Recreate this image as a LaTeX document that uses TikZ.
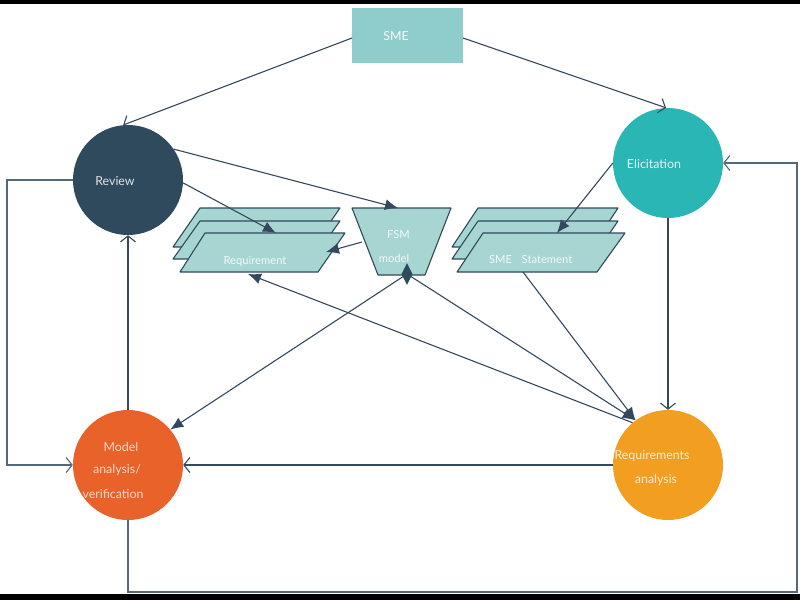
\documentclass[tikz,border=0pt]{standalone}
\usepackage{fontspec}
\setmainfont{Lato}
\usetikzlibrary{arrows.meta,shapes.geometric}
\definecolor{linec}{HTML}{34495E}
\definecolor{loopc}{HTML}{536979}
\definecolor{smefill}{HTML}{8ECDCB}
\definecolor{shapefill}{HTML}{A7D6D2}
\definecolor{shapeline}{HTML}{2E4A5B}
\definecolor{reviewc}{HTML}{2F4A5C}
\definecolor{elicc}{HTML}{2BB6B6}
\definecolor{modelc}{HTML}{E8622A}
\definecolor{reqc}{HTML}{F29E21}
\tikzset{
  conn/.style={draw=linec, line width=1.1pt},
  loopconn/.style={draw=loopc, line width=1.3pt},
  openhead/.style={-{Straight Barb[length=6pt,width=15pt,line width=1.1pt]}},
  fillhead/.style={-{Latex[length=13pt,width=11pt]}},
  bigcircle/.style={circle, minimum size=110pt, inner sep=0pt, draw=none},
  ctext/.style={font=\fontsize{12.4}{14}\selectfont, inner sep=1pt},
  stext/.style={font=\fontsize{11.2}{13}\selectfont, inner sep=1pt, text=white!85!shapefill},
  shapebox/.style={fill=shapefill, draw=shapeline, line width=1.1pt, line join=round},
}
\begin{document}
\begin{tikzpicture}[x=1pt,y=-1pt]
\useasboundingbox (0,0) rectangle (800,600);
\fill[white] (0,0) rectangle (800,600);
\fill[black] (0,0) rectangle (800,4);
\fill[black] (0,594) rectangle (800,600);

% SME box
\node[fill=smefill, minimum width=111pt, minimum height=55pt, inner sep=0pt] (sme) at (407.5,35.5) {};
\node[ctext, text=white!92!smefill] (smetxt) at (396,36) {SME};

% circles
\node[bigcircle, fill=reviewc] (review) at (128,180) {};
\node[bigcircle, fill=elicc] (elic) at (668,163) {};
\node[bigcircle, fill=modelc] (model) at (128,465) {};
\node[bigcircle, fill=reqc] (req) at (668,465) {};

\node[ctext, text=white!85!reviewc] (reviewtxt) at (115,181) {Review};
\node[ctext, text=white!88!elicc] (elictxt) at (654,164) {Elicitation};
\node[ctext, text=white!75!modelc] (modeltxt1) at (121,447) {Model};
\node[ctext, text=white!75!modelc] (modeltxt2) at (117,470) {analysis/};
\node[ctext, text=white!75!modelc] (modeltxt3) at (113,494) {verification};
\node[ctext, text=white!80!reqc] (reqtxt1) at (652,456) {Requirements};
\node[ctext, text=white!80!reqc] (reqtxt2) at (656,480) {analysis};

% Requirement stack
\draw[shapebox] (200,208) -- (340,208) -- (313,247) -- (173,247) -- cycle;
\draw[shapebox] (200,221) -- (340,221) -- (313,259) -- (173,259) -- cycle;
\draw[shapebox] (205,233) -- (345,233) -- (318,272) -- (180,272) -- cycle;
\node[stext] (reqdoc) at (255,261) {Requirement};
\coordinate (reqdoctop) at (276,233);
\coordinate (reqdocright) at (326,252);
\coordinate (reqdocbot) at (248,274);

% SME Statement stack
\draw[shapebox] (478,208) -- (618,208) -- (592,247) -- (452,247) -- cycle;
\draw[shapebox] (478,221) -- (618,221) -- (592,259) -- (452,259) -- cycle;
\draw[shapebox] (483,233) -- (625,233) -- (597,272) -- (457,272) -- cycle;
\node[stext] (smedoc1) at (500.5,259) {SME};
\node[stext] (smedoc2) at (547,259) {Statement};
\coordinate (smedoctop) at (557,233);
\coordinate (smedocbot) at (523,272);

% FSM trapezoid
\draw[shapebox] (352,208) -- (451,208) -- (425,275) -- (378,275) -- cycle;
\node[stext] (fsmtxt1) at (398.5,234) {FSM};
\node[stext] (fsmtxt2) at (394,258) {model};
\coordinate (fsmtop) at (398,208);
\coordinate (fsmleft) at (362,242);
\node[diamond, fill=shapeline, inner sep=0pt, minimum width=11pt, minimum height=22pt] (fsmdiam) at (407,274) {};

% connectors
\draw[conn, openhead] (352,38) -- (review.95);
\draw[conn, openhead] (463,38) -- (elic.92);
\draw[conn, fillhead] (review.34) -- (fsmtop);
\draw[conn, fillhead] (review.-3) -- (reqdoctop);
\draw[conn, fillhead] (fsmleft) -- (reqdocright);
\draw[conn, fillhead] (elic.west) -- (smedoctop);
\draw[conn, openhead] (elic.south) -- (req.north);
\draw[conn, openhead] (model.north) -- (review.south);
\draw[conn, openhead] (req.west) -- (model.east);
\draw[conn, fillhead] (fsmdiam.center) -- (model.40);
\draw[conn, fillhead] (fsmdiam.center) -- (req.126);
\draw[conn, fillhead] (smedocbot) -- (req.126);
\draw[conn, fillhead] (req.130) -- (reqdocbot);
\draw[loopconn, openhead] (review.west) -- (7,180) -- (7,465) -- (model.west);
\draw[loopconn, openhead] (model.south) -- (128,592) -- (797,592) -- (797,163) -- (elic.east);
\end{tikzpicture}
\end{document}
